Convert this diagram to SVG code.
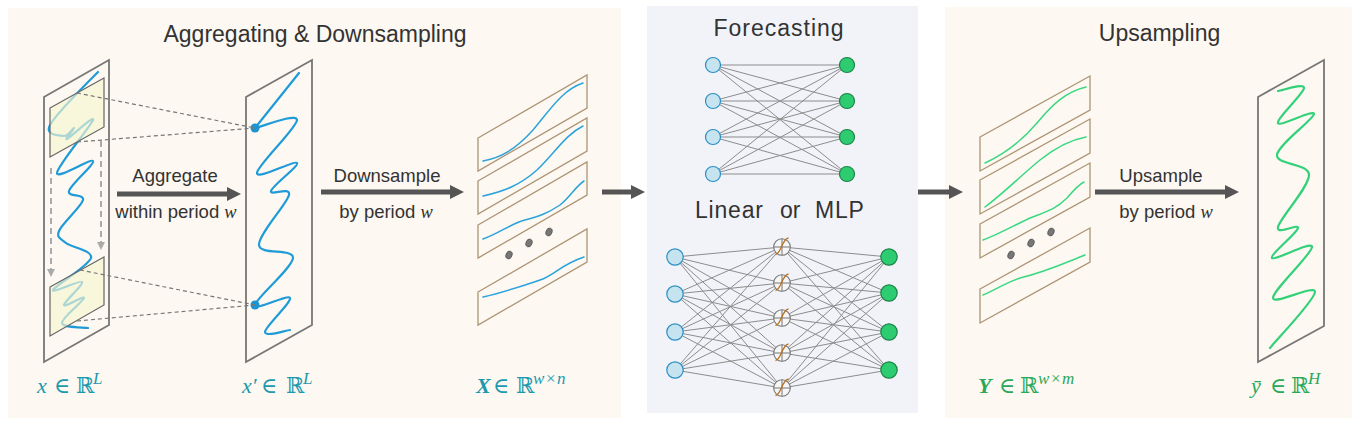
<svg xmlns="http://www.w3.org/2000/svg" width="1360" height="426" viewBox="0 0 1360 426">
<style>
.title{font-family:"Liberation Sans",Arial,sans-serif;font-size:23px;fill:#333}
.lbl{font-family:"Liberation Sans",Arial,sans-serif;font-size:18.5px;fill:#333;text-anchor:middle}
.w{font-family:"Liberation Serif","DejaVu Serif",serif;font-style:italic}
.math{font-family:"Liberation Serif","DejaVu Serif",serif;font-size:22px}
.it{font-style:italic}
.sup{font-size:17px;font-style:italic}
.teal{fill:#1b9aae}
.grn{fill:#2aa85a}
.strip{fill:none;stroke:#777;stroke-width:1.8}
.pan{fill:none;stroke:#ad9575;stroke-width:1.3}
.bl{fill:none;stroke:#1f9bd9;stroke-width:2.2;stroke-linecap:round;stroke-linejoin:round}
.blt{fill:none;stroke:#2aa3dc;stroke-width:1.5;stroke-linecap:round}
.gr{fill:none;stroke:#33d17a;stroke-width:2.2;stroke-linecap:round}
.grt{fill:none;stroke:#3ad882;stroke-width:1.5;stroke-linecap:round}
.box{fill:#f8f6cf;fill-opacity:0.65;stroke:#666;stroke-width:1.2}
.edge{stroke:#8c8c8c;stroke-width:1}
.dash{stroke:#777;stroke-width:1.2;stroke-dasharray:4 3;fill:none}
.vdash{stroke:#aaa;stroke-width:2;stroke-dasharray:6 4;fill:none}
.arrow{stroke:#555;stroke-width:5;fill:none}
.dot{fill:#777;stroke:#555;stroke-width:0.8}
.inN{fill:#c6e4ef;stroke:#2b8fc5;stroke-width:1.2}
.outN{fill:#2ecc71;stroke:#1e8449;stroke-width:1.2}
</style>
<defs>
<marker id="ah" viewBox="0 0 10 10" refX="0" refY="5" markerWidth="2.8" markerHeight="3.2" orient="auto" markerUnits="strokeWidth">
<path d="M0,0 L10,5 L0,10 z" fill="#555"/>
</marker>
<marker id="gh" viewBox="0 0 10 10" refX="0" refY="5" markerWidth="4" markerHeight="4" orient="auto" markerUnits="strokeWidth">
<path d="M0,0 L10,5 L0,10 z" fill="#aaa"/>
</marker>
<g id="tanh">
<circle r="8.3" fill="#f6f6f6" stroke="#777" stroke-width="1.1"/>
<line x1="-8.3" y1="0" x2="8.3" y2="0" stroke="#777" stroke-width="1"/>
<line x1="0" y1="-8.3" x2="0" y2="8.3" stroke="#777" stroke-width="1"/>
<path d="M-6.5,7.5 C-1,7.5 0,-8.5 6.5,-9" fill="none" stroke="#b8701e" stroke-width="1.3"/>
</g>
</defs>

<!-- panels -->
<g id="panels">
<rect x="8" y="8" width="613" height="410" fill="#fdf8f1"/>
<rect x="647" y="6" width="271" height="407" fill="#f1f3f9"/>
<rect x="945" y="7" width="407" height="411" fill="#fdf8f1"/>
</g>

<g id="titles">
<text class="title" x="315" y="42" text-anchor="middle">Aggregating &amp; Downsampling</text>
<text class="title" x="779" y="36" text-anchor="middle" letter-spacing="1">Forecasting</text>
<text class="title" x="695" y="218" letter-spacing="0.8">Linear</text>
<text class="title" x="780" y="218">or</text>
<text class="title" x="815" y="218" letter-spacing="0.8">MLP</text>
<text class="title" x="1159.5" y="41" text-anchor="middle">Upsampling</text>
</g>

<!-- input series x -->
<g id="node-x">
<polygon class="strip" points="44,97 109,60 109,325 44,362"/>
<path class="bl" d="M98,72 C98,72 55.7,114.3 50,125 S60,135.5 64,136 S73.5,127.5 74,128 S63.8,140.3 67,139 S94.7,114.3 93,120 S57,166.2 57,173 S91,158 93,161 S70.7,184.5 69,191 S84.7,193.3 83,200 S61.8,223.8 59,231 S60.7,238.5 66,243 S93.2,250.2 91,258 S54.5,286 53,290 S80.2,279.5 82,282 S63.7,302.3 64,305 S84.3,295 84,298 S61.3,318 62,323 S83.7,327.2 88,328"/>
<polygon class="box" points="50,108 104,78 104,127 50,157"/>
<polygon class="box" points="50,287 104,257 104,305 50,336"/>
</g>

<!-- aggregated series x' -->
<g id="node-xprime">
<polygon class="strip" points="246,97 312,60 312,325 246,362"/>
<path class="bl" d="M299,73 L255,128 C262,126.7 296.7,112.5 297,120 S257,165.8 257,173 S294.7,160 297,163 S272.3,185.7 271,191 S291,186 289,195 S258.3,234.5 259,245 S293.7,248 293,258 S255.5,298.3 255,305 S288.3,293.5 290,298 S265,326.7 265,332 S285.8,330.3 290,330"/>
<circle cx="255" cy="128" r="4.5" fill="#1b94d2"/>
<circle cx="255" cy="305" r="4.5" fill="#1b94d2"/>
</g>

<!-- downsampled X -->
<g id="node-X">
<polygon class="pan" points="478,138 587,75 587,108 478,171"/>
<path class="blt" d="M483,161 C500,158 515,150 533,130 C550,110 562,90 583,83"/>
<polygon class="pan" points="478,181 587,118 587,151 478,214"/>
<path class="blt" d="M483,196 C505,191 520,185 537,170 C555,153 565,135 583,126"/>
<polygon class="pan" points="478,225 587,162 587,195 478,258"/>
<path class="blt" d="M483,239 C500,233 510,224 525,220 C540,216 548,213 560,205 C570,197 576,186 584,181"/>
<polygon class="pan" points="478,292 587,229 587,262 478,325"/>
<path class="blt" d="M483,297 C505,292 525,285 540,280 C555,275 560,265 584,257"/>
<ellipse class="dot" cx="509" cy="255" rx="3" ry="4" transform="rotate(20 509 255)"/>
<ellipse class="dot" cx="529" cy="243" rx="3" ry="4" transform="rotate(20 529 243)"/>
<ellipse class="dot" cx="549" cy="232" rx="3" ry="4" transform="rotate(20 549 232)"/>
</g>

<!-- forecasted Y -->
<g id="node-Y">
<polygon class="pan" points="980,137 1090,76 1090,110 980,171"/>
<path class="grt" d="M985,163 C1000,156 1020,143 1037,123 C1052,105 1065,92 1086,87"/>
<polygon class="pan" points="980,180 1090,119 1090,153 980,214"/>
<path class="grt" d="M985,207 C1005,192 1025,172 1040,160 C1055,148 1070,140 1086,137"/>
<polygon class="pan" points="980,224 1090,163 1090,197 980,258"/>
<path class="grt" d="M983,240 C995,236 1015,225 1030,218 C1045,212 1055,210 1067,198 C1073,191 1078,185 1084,182"/>
<polygon class="pan" points="980,289 1090,228 1090,262 980,323"/>
<path class="grt" d="M983,295 C995,290 1005,283 1020,278 C1045,272 1060,265 1085,255"/>
<ellipse class="dot" cx="1011" cy="255" rx="3" ry="4" transform="rotate(20 1011 255)"/>
<ellipse class="dot" cx="1031" cy="243" rx="3" ry="4" transform="rotate(20 1031 243)"/>
<ellipse class="dot" cx="1051" cy="232" rx="3" ry="4" transform="rotate(20 1051 232)"/>
</g>

<!-- output series y-bar -->
<g id="node-ybar">
<polygon class="strip" points="1258,97 1324,60 1324,326 1258,362"/>
<path class="gr" d="M1278,91 C1282.3,90.5 1304,82.7 1304,88 S1276.3,118.7 1278,123 S1314.2,108.7 1314,114 S1277.8,144.8 1277,155 S1308.8,163 1309,175 S1279.8,218.2 1278,227 S1299,222.8 1298,228 S1269.7,254.8 1272,258 S1311.8,240.3 1312,247 S1272.5,290.5 1273,298 S1315.5,283.7 1315,292 S1277.5,338.7 1270,348"/>
</g>

<!-- connectors -->
<g id="connectors">
<g id="dashed">
<line class="dash" x1="77" y1="93" x2="255" y2="128"/>
<line class="dash" x1="77" y1="142" x2="255" y2="128"/>
<line class="dash" x1="80" y1="270" x2="255" y2="305"/>
<line class="dash" x1="77" y1="321" x2="255" y2="305"/>
<line class="vdash" x1="51" y1="168" x2="51" y2="269" marker-end="url(#gh)"/>
<line class="vdash" x1="101" y1="141" x2="101" y2="242" marker-end="url(#gh)"/>
</g>
<g id="main-arrows">
<line class="arrow" x1="117" y1="194" x2="227" y2="194" marker-end="url(#ah)"/>
<line class="arrow" x1="321" y1="192" x2="450" y2="192" marker-end="url(#ah)"/>
<line class="arrow" x1="602" y1="192" x2="631" y2="192" marker-end="url(#ah)"/>
<line class="arrow" x1="918" y1="192" x2="949" y2="192" marker-end="url(#ah)"/>
<line class="arrow" x1="1095" y1="192" x2="1225" y2="192" marker-end="url(#ah)"/>
</g>
<g id="edges-linear">
<line class="edge" x1="713" y1="65" x2="847" y2="65"/><line class="edge" x1="713" y1="65" x2="847" y2="101"/><line class="edge" x1="713" y1="65" x2="847" y2="137"/><line class="edge" x1="713" y1="65" x2="847" y2="174"/>
<line class="edge" x1="713" y1="101" x2="847" y2="65"/><line class="edge" x1="713" y1="101" x2="847" y2="101"/><line class="edge" x1="713" y1="101" x2="847" y2="137"/><line class="edge" x1="713" y1="101" x2="847" y2="174"/>
<line class="edge" x1="713" y1="137" x2="847" y2="65"/><line class="edge" x1="713" y1="137" x2="847" y2="101"/><line class="edge" x1="713" y1="137" x2="847" y2="137"/><line class="edge" x1="713" y1="137" x2="847" y2="174"/>
<line class="edge" x1="713" y1="174" x2="847" y2="65"/><line class="edge" x1="713" y1="174" x2="847" y2="101"/><line class="edge" x1="713" y1="174" x2="847" y2="137"/><line class="edge" x1="713" y1="174" x2="847" y2="174"/>
</g>
<g id="edges-mlp">
<line class="edge" x1="675" y1="257" x2="782" y2="247"/><line class="edge" x1="675" y1="257" x2="782" y2="283"/><line class="edge" x1="675" y1="257" x2="782" y2="318"/><line class="edge" x1="675" y1="257" x2="782" y2="353"/><line class="edge" x1="675" y1="257" x2="782" y2="388"/>
<line class="edge" x1="675" y1="294" x2="782" y2="247"/><line class="edge" x1="675" y1="294" x2="782" y2="283"/><line class="edge" x1="675" y1="294" x2="782" y2="318"/><line class="edge" x1="675" y1="294" x2="782" y2="353"/><line class="edge" x1="675" y1="294" x2="782" y2="388"/>
<line class="edge" x1="675" y1="332" x2="782" y2="247"/><line class="edge" x1="675" y1="332" x2="782" y2="283"/><line class="edge" x1="675" y1="332" x2="782" y2="318"/><line class="edge" x1="675" y1="332" x2="782" y2="353"/><line class="edge" x1="675" y1="332" x2="782" y2="388"/>
<line class="edge" x1="675" y1="370" x2="782" y2="247"/><line class="edge" x1="675" y1="370" x2="782" y2="283"/><line class="edge" x1="675" y1="370" x2="782" y2="318"/><line class="edge" x1="675" y1="370" x2="782" y2="353"/><line class="edge" x1="675" y1="370" x2="782" y2="388"/>
<line class="edge" x1="782" y1="247" x2="889" y2="257"/><line class="edge" x1="782" y1="247" x2="889" y2="293"/><line class="edge" x1="782" y1="247" x2="889" y2="332"/><line class="edge" x1="782" y1="247" x2="889" y2="370"/>
<line class="edge" x1="782" y1="283" x2="889" y2="257"/><line class="edge" x1="782" y1="283" x2="889" y2="293"/><line class="edge" x1="782" y1="283" x2="889" y2="332"/><line class="edge" x1="782" y1="283" x2="889" y2="370"/>
<line class="edge" x1="782" y1="318" x2="889" y2="257"/><line class="edge" x1="782" y1="318" x2="889" y2="293"/><line class="edge" x1="782" y1="318" x2="889" y2="332"/><line class="edge" x1="782" y1="318" x2="889" y2="370"/>
<line class="edge" x1="782" y1="353" x2="889" y2="257"/><line class="edge" x1="782" y1="353" x2="889" y2="293"/><line class="edge" x1="782" y1="353" x2="889" y2="332"/><line class="edge" x1="782" y1="353" x2="889" y2="370"/>
<line class="edge" x1="782" y1="388" x2="889" y2="257"/><line class="edge" x1="782" y1="388" x2="889" y2="293"/><line class="edge" x1="782" y1="388" x2="889" y2="332"/><line class="edge" x1="782" y1="388" x2="889" y2="370"/>
</g>
</g>

<!-- network nodes -->
<g id="linear-in"><circle class="inN" cx="713" cy="65" r="7.5"/><circle class="inN" cx="713" cy="101" r="7.5"/><circle class="inN" cx="713" cy="137" r="7.5"/><circle class="inN" cx="713" cy="174" r="7.5"/></g>
<g id="linear-out"><circle class="outN" cx="847" cy="65" r="7.5"/><circle class="outN" cx="847" cy="101" r="7.5"/><circle class="outN" cx="847" cy="137" r="7.5"/><circle class="outN" cx="847" cy="174" r="7.5"/></g>
<g id="mlp-in"><circle class="inN" cx="675" cy="257" r="8.2"/><circle class="inN" cx="675" cy="294" r="8.2"/><circle class="inN" cx="675" cy="332" r="8.2"/><circle class="inN" cx="675" cy="370" r="8.2"/></g>
<g id="mlp-hidden"><use href="#tanh" x="782" y="247"/><use href="#tanh" x="782" y="283"/><use href="#tanh" x="782" y="318"/><use href="#tanh" x="782" y="353"/><use href="#tanh" x="782" y="388"/></g>
<g id="mlp-out"><circle class="outN" cx="889" cy="257" r="8.2"/><circle class="outN" cx="889" cy="293" r="8.2"/><circle class="outN" cx="889" cy="332" r="8.2"/><circle class="outN" cx="889" cy="370" r="8.2"/></g>

<!-- arrow labels -->
<g id="arrow-labels">
<text class="lbl" x="175" y="182">Aggregate</text>
<text class="lbl" x="176" y="218">within period <tspan class="w">w</tspan></text>
<text class="lbl" x="387" y="182">Downsample</text>
<text class="lbl" x="386" y="218">by period <tspan class="w">w</tspan></text>
<text class="lbl" x="1161" y="182">Upsample</text>
<text class="lbl" x="1166" y="218">by period <tspan class="w">w</tspan></text>
</g>

<!-- math labels -->
<g id="math-labels">
<text class="math teal" y="393"><tspan x="37" class="it">x</tspan><tspan x="54">∈</tspan><tspan x="76">ℝ</tspan><tspan x="93" y="384" class="sup">L</tspan></text>
<text class="math teal" y="393"><tspan x="242" class="it">x′</tspan><tspan x="261">∈</tspan><tspan x="286">ℝ</tspan><tspan x="303" y="384" class="sup">L</tspan></text>
<text class="math teal" y="393"><tspan x="476" class="it" font-weight="bold">X</tspan><tspan x="493">∈</tspan><tspan x="516">ℝ</tspan><tspan x="533" y="384" class="sup">w</tspan><tspan x="546" y="384" font-size="17px">×</tspan><tspan x="557" y="384" class="sup">n</tspan></text>
<text class="math grn" y="393"><tspan x="978" class="it" font-weight="bold">Y</tspan><tspan x="999">∈</tspan><tspan x="1020">ℝ</tspan><tspan x="1038" y="384" class="sup">w</tspan><tspan x="1051" y="384" font-size="17px">×</tspan><tspan x="1062" y="384" class="sup">m</tspan></text>
<text class="math grn" y="393"><tspan x="1251" class="it">ȳ</tspan><tspan x="1270">∈</tspan><tspan x="1291">ℝ</tspan><tspan x="1308" y="384" class="sup">H</tspan></text>
</g>
</svg>
